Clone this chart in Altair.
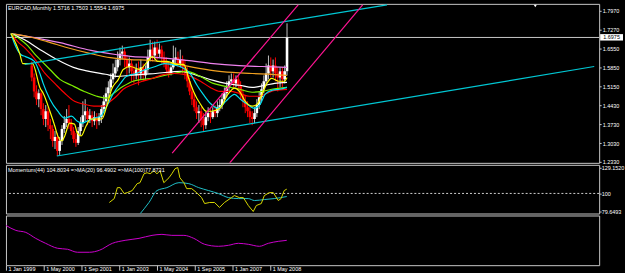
import json
import altair as alt
import pandas as pd

# ---------------- data ----------------
symbol = "EURCAD,Monthly"
candle_months = list(range(9, 120))  # bar index (months since Jan 1999)
opens = [1.593, 1.548, 1.496, 1.467, 1.489, 1.430, 1.393, 1.422, 1.370, 1.356,
         1.311, 1.326, 1.274, 1.311, 1.356, 1.378, 1.393, 1.378, 1.348, 1.318,
         1.304, 1.348, 1.378, 1.407, 1.422, 1.393, 1.407, 1.385, 1.400, 1.385,
         1.400, 1.430, 1.459, 1.489, 1.511, 1.541, 1.563, 1.586, 1.615, 1.637,
         1.645, 1.615, 1.586, 1.600, 1.571, 1.556, 1.578, 1.563, 1.586, 1.556,
         1.578, 1.623, 1.652, 1.630, 1.660, 1.637, 1.652, 1.623, 1.600, 1.578,
         1.563, 1.586, 1.615, 1.623, 1.600, 1.615, 1.586, 1.563, 1.534, 1.496,
         1.467, 1.437, 1.415, 1.422, 1.393, 1.370, 1.400, 1.415, 1.400, 1.422,
         1.415, 1.437, 1.445, 1.467, 1.489, 1.511, 1.534, 1.541, 1.526, 1.541,
         1.519, 1.482, 1.459, 1.437, 1.422, 1.400, 1.393, 1.415, 1.445, 1.474,
         1.504, 1.534, 1.563, 1.593, 1.571, 1.593, 1.563, 1.548, 1.571, 1.541,
         1.5716]
highs = [1.608, 1.563, 1.519, 1.504, 1.496, 1.452, 1.445, 1.437, 1.393, 1.370,
         1.348, 1.341, 1.326, 1.370, 1.404, 1.430, 1.445, 1.393, 1.363, 1.341,
         1.363, 1.400, 1.459, 1.467, 1.437, 1.430, 1.422, 1.422, 1.415, 1.415,
         1.445, 1.482, 1.511, 1.534, 1.563, 1.600, 1.615, 1.645, 1.660, 1.667,
         1.660, 1.630, 1.623, 1.615, 1.593, 1.600, 1.608, 1.615, 1.600, 1.593,
         1.652, 1.689, 1.682, 1.682, 1.689, 1.675, 1.667, 1.645, 1.623, 1.608,
         1.600, 1.667, 1.660, 1.645, 1.652, 1.630, 1.615, 1.586, 1.548, 1.511,
         1.489, 1.459, 1.445, 1.437, 1.415, 1.422, 1.437, 1.430, 1.437, 1.445,
         1.459, 1.467, 1.489, 1.511, 1.534, 1.556, 1.563, 1.563, 1.556, 1.556,
         1.534, 1.504, 1.482, 1.459, 1.437, 1.422, 1.437, 1.467, 1.496, 1.526,
         1.556, 1.600, 1.630, 1.623, 1.615, 1.623, 1.586, 1.586, 1.586, 1.593,
         1.7503]
lows = [1.534, 1.474, 1.445, 1.437, 1.407, 1.370, 1.363, 1.348, 1.318, 1.289,
        1.281, 1.255, 1.259, 1.296, 1.341, 1.363, 1.356, 1.333, 1.304, 1.289,
        1.296, 1.333, 1.363, 1.385, 1.370, 1.378, 1.363, 1.370, 1.356, 1.370,
        1.378, 1.415, 1.445, 1.474, 1.496, 1.526, 1.548, 1.571, 1.593, 1.615,
        1.586, 1.556, 1.563, 1.534, 1.526, 1.541, 1.519, 1.541, 1.534, 1.541,
        1.563, 1.608, 1.608, 1.615, 1.615, 1.623, 1.600, 1.586, 1.563, 1.548,
        1.556, 1.578, 1.593, 1.586, 1.586, 1.563, 1.541, 1.511, 1.482, 1.445,
        1.422, 1.393, 1.378, 1.363, 1.348, 1.356, 1.385, 1.378, 1.393, 1.400,
        1.400, 1.422, 1.430, 1.452, 1.474, 1.496, 1.519, 1.504, 1.511, 1.496,
        1.467, 1.437, 1.415, 1.400, 1.378, 1.370, 1.378, 1.400, 1.430, 1.459,
        1.489, 1.519, 1.541, 1.548, 1.548, 1.534, 1.496, 1.511, 1.511, 1.526,
        1.5554]
closes = [1.548, 1.496, 1.467, 1.489, 1.430, 1.393, 1.422, 1.370, 1.356, 1.311,
          1.326, 1.274, 1.311, 1.356, 1.378, 1.393, 1.378, 1.348, 1.318, 1.304,
          1.348, 1.378, 1.407, 1.422, 1.393, 1.407, 1.385, 1.400, 1.385, 1.400,
          1.430, 1.459, 1.489, 1.511, 1.541, 1.563, 1.586, 1.615, 1.637, 1.645,
          1.615, 1.586, 1.600, 1.571, 1.556, 1.578, 1.563, 1.586, 1.556, 1.578,
          1.623, 1.652, 1.630, 1.660, 1.637, 1.652, 1.623, 1.600, 1.578, 1.563,
          1.586, 1.615, 1.623, 1.600, 1.615, 1.586, 1.563, 1.534, 1.496, 1.467,
          1.437, 1.415, 1.422, 1.393, 1.370, 1.400, 1.415, 1.400, 1.422, 1.415,
          1.437, 1.445, 1.467, 1.489, 1.511, 1.534, 1.541, 1.526, 1.541, 1.519,
          1.482, 1.459, 1.437, 1.422, 1.400, 1.393, 1.415, 1.445, 1.474, 1.504,
          1.534, 1.563, 1.593, 1.571, 1.593, 1.563, 1.548, 1.571, 1.541, 1.5716,
          1.6975]

# moving averages, sampled (month, price)
yellow_m = [0, 3.8, 5.1, 9.3, 12.6, 13.9, 16.8, 18.9, 20.2, 21.9, 23.2, 25.3, 27.4, 28.6, 30.3, 32.4,
            34.5, 39.2, 41.3, 43.4, 46.3, 48.4, 51.4, 55.6, 58.1, 61.1, 63.2, 67.4, 71.6, 74.5, 76.6,
            78.7, 81.7, 84.2, 86.3, 90.1, 93.5, 96.4, 98.5, 101, 104, 106.1, 108.2, 110.3, 112.4,
            115.4, 117.9, 119]
yellow_p = [1.712, 1.637, 1.600, 1.600, 1.508, 1.489, 1.422, 1.367, 1.330, 1.311, 1.330, 1.378, 1.374,
            1.341, 1.330, 1.367, 1.393, 1.393, 1.441, 1.504, 1.541, 1.578, 1.589, 1.578, 1.600, 1.626,
            1.608, 1.608, 1.597, 1.597, 1.545, 1.496, 1.448, 1.422, 1.422, 1.433, 1.485, 1.508, 1.496,
            1.459, 1.441, 1.448, 1.485, 1.526, 1.545, 1.534, 1.534, 1.548]
cyan_m = [0, 1.7, 4.2, 6.3, 10.1, 12.6, 13.9, 16.8, 20.2, 23.2, 26.1, 28.6, 30.7, 32.8, 35.8, 38.7,
          41.3, 44.2, 47.2, 49.7, 53.9, 58.1, 62.3, 66.1, 69.1, 74.5, 77.5, 80, 82.9, 85.9, 89.3,
          92.6, 96.4, 98.9, 101.9, 104.8, 107.4, 109.5, 112.4, 115.8, 119]
cyan_p = [1.712, 1.671, 1.634, 1.626, 1.608, 1.560, 1.526, 1.467, 1.422, 1.396, 1.404, 1.385, 1.378,
          1.385, 1.396, 1.404, 1.441, 1.489, 1.526, 1.552, 1.563, 1.578, 1.589, 1.600, 1.597, 1.582,
          1.560, 1.522, 1.485, 1.452, 1.433, 1.459, 1.485, 1.467, 1.448, 1.433, 1.448, 1.485, 1.500,
          1.504, 1.511]
red_m = [0, 2.9, 6.3, 10.5, 14.7, 18.9, 23.2, 27.4, 31.6, 35.8, 40, 42.9, 45.5, 48.4, 52.6, 56.8,
         61.1, 66.1, 70.3, 74.5, 77.5, 81.7, 85.9, 90.1, 94.3, 98.5, 102.7, 106.9, 110.3, 113.7, 119]
red_p = [1.712, 1.682, 1.656, 1.615, 1.563, 1.526, 1.489, 1.459, 1.448, 1.441, 1.441, 1.459, 1.478,
         1.504, 1.522, 1.534, 1.545, 1.560, 1.563, 1.560, 1.552, 1.534, 1.511, 1.496, 1.496, 1.489,
         1.478, 1.478, 1.489, 1.500, 1.504]
green_m = [0, 4.2, 7.2, 10.1, 12.6, 16.8, 21.1, 26.1, 31.6, 37, 41.3, 44.2, 48.4, 52.6, 56.8, 61.1,
           66.1, 70.3, 75.8, 81.7, 87.2, 92.6, 98.5, 104, 108.2, 112.4, 119]
green_p = [1.712, 1.689, 1.667, 1.637, 1.615, 1.578, 1.541, 1.519, 1.496, 1.478, 1.471, 1.489, 1.515,
           1.534, 1.541, 1.545, 1.556, 1.563, 1.571, 1.552, 1.526, 1.515, 1.504, 1.493, 1.496, 1.504,
           1.511]
white_m = [0, 5.9, 12.6, 19.8, 26.9, 33.7, 40.8, 45.5, 51.4, 56.8, 62.3, 73.3, 77.5, 81.7, 87.2,
           92.6, 98.5, 104, 109.5, 113.7, 119]
white_p = [1.712, 1.689, 1.652, 1.615, 1.586, 1.571, 1.560, 1.552, 1.556, 1.560, 1.563, 1.571, 1.563,
           1.552, 1.537, 1.526, 1.519, 1.511, 1.519, 1.526, 1.530]
orange_m = [0, 7.2, 15.6, 24, 34.5, 42.9, 51.4, 59.8, 70.3, 78.7, 87.2, 95.6, 104, 112.4, 119]
orange_p = [1.712, 1.701, 1.682, 1.660, 1.637, 1.622, 1.615, 1.612, 1.600, 1.586, 1.574, 1.567,
            1.563, 1.560, 1.556]
violet_m = [0, 10.1, 21.1, 34.5, 45.1, 52.6, 62.3, 75.8, 87.2, 96.8, 108.2, 119]
violet_p = [1.712, 1.697, 1.678, 1.649, 1.634, 1.626, 1.623, 1.612, 1.600, 1.593, 1.589, 1.586]

# trend lines (month, price) end points
channel_names = ["channel_top", "channel_bottom"]
channel_m = [[5.9, 162.1], [19.8, 251.4]]
channel_p = [[1.597, 1.8193], [1.255, 1.589]]
pink_names = ["pink_1", "pink_2"]
pink_m = [[69.5, 123.8], [94.3, 151.6]]
pink_p = [[1.266, 1.819], [1.229, 1.819]]

price_ticks = [1.797, 1.727, 1.655, 1.585, 1.515, 1.443, 1.373, 1.303, 1.233]

# momentum panel
mom_m = [43.8, 45.9, 47.2, 48.4, 50.1, 51.4, 53.5, 55.6, 56.8, 58.5, 59.8, 61.1, 62.7, 64, 65.3, 66.9,
         69.1, 70.3, 71.6, 72.8, 73.7, 75.4, 76.6, 78.7, 80.8, 82.9, 84.2, 86.3, 88.4, 90.5, 92.6,
         95.6, 96.8, 98.9, 100.6, 102.7, 104.8, 106.1, 108.2, 109.5, 111.6, 113.3, 115.4, 116.6,
         117.9, 119]
mom_v = [89.8, 94.2, 106.5, 106.5, 99.8, 100.9, 103.2, 111.0, 112.1, 122.1, 123.3, 122.1, 125.5,
         122.1, 125.5, 112.1, 117.7, 122.1, 127.7, 129.152, 117.7, 112.1, 105.4, 105.4, 100.9, 95.3,
         88.6, 89.8, 89.8, 84.2, 89.8, 95.3, 97.6, 95.3, 95.3, 86.4, 79.6493, 86.4, 88.6, 97.6,
         100.9, 100.9, 92.0, 94.2, 103.2, 104.8034]
mom_ma_m = [56.5, 60.6, 64, 68.2, 73.3, 77.5, 81.7, 85.9, 90.1, 94.3, 98.5, 102.7, 105.3, 109.5,
            113.7, 119]
mom_ma_v = [76.0, 89.8, 103.2, 106.5, 112.1, 111.0, 106.5, 103.2, 99.8, 95.3, 94.2, 94.2, 92.0,
            93.1, 94.2, 96.4902]
mom_ticks = [129.152, 100, 79.6493]
mom_label = "Momentum(44) 104.8034  =>MA(20) 96.4902  =>MA(100)77.8731"

# bottom panel
bot_m = [0, 4.2, 8.4, 12.6, 16.8, 21.9, 26.1, 30.3, 35.4, 39.6, 45.1, 50.5, 56.4, 61.9, 66.1, 70.3,
         75.4, 79.6, 84.2, 90.1, 94.3, 98.5, 102.7, 107.4, 111.2, 115.4, 119]
bot_v = [80, 70, 66, 54, 44, 34, 32, 26, 26, 30, 44, 50, 54, 60, 62, 60, 60, 54, 42, 38, 40, 44, 42,
         38, 44, 48, 50]

date_ticks = [0, 16, 32, 48, 64, 80, 96, 112]
date_labels = ["1 Jan 1999", "1 May 2000", "1 Sep 2001", "1 Jan 2003", "1 May 2004",
               "1 Sep 2005", "1 Jan 2007", "1 May 2008"]

# ---------------- chart ----------------
FONT = "Liberation Sans"
FS = 5.5
W = 597
GRID = "#C8C8C8"

xs = alt.Scale(domain=[0, 251.4], nice=False, zero=False)
ys_main = alt.Scale(domain=[1.2294, 1.8230], nice=False, zero=False)
ys_mom = alt.Scale(domain=[77.4, 132.2], nice=False, zero=False)
ys_bot = alt.Scale(domain=[0, 100], nice=False, zero=False)

main_axis = alt.Axis(orient="right", values=price_ticks, format=".4f", title=None,
                     labelColor="white", labelFont=FONT, labelFontSize=FS, tickColor=GRID,
                     tickSize=2, labelPadding=1, domain=False, grid=False, labelOverlap=False,
                     labelFlush=False)


def X(field="m"):
    return alt.X(f"{field}:Q", scale=xs, axis=None)


def YM(field):
    return alt.Y(f"{field}:Q", scale=ys_main, axis=main_axis)


candles = pd.DataFrame({"m": candle_months, "open": opens, "high": highs,
                        "low": lows, "close": closes})
up = "datum.close >= datum.open"

wicks = alt.Chart(candles).mark_rule(strokeWidth=1).encode(
    x=X(), y=YM("low"), y2="high:Q",
    color=alt.condition(up, alt.value("#C0C0C0"), alt.value("#FF0000")))
bodies = alt.Chart(candles).mark_bar(size=2.6).encode(
    x=X(), y=YM("open"), y2="close:Q",
    color=alt.condition(up, alt.value("#FFFFFF"), alt.value("#FF0000")))

ma_names = ["violet", "orange", "white", "green", "red", "cyan", "yellow"]
ma_colors = ["#EE82EE", "#F0A020", "#FFFFFF", "#7FEE00", "#FF0000", "#00E0F0", "#FFFF00"]
ma_series = {"violet": (violet_m, violet_p), "orange": (orange_m, orange_p),
             "white": (white_m, white_p), "green": (green_m, green_p),
             "red": (red_m, red_p), "cyan": (cyan_m, cyan_p), "yellow": (yellow_m, yellow_p)}
rows = []
for name in ma_names:
    ms, ps = ma_series[name]
    assert len(ms) == len(ps), name
    for a, b in zip(ms, ps):
        rows.append({"ma": name, "m": a, "p": b})
ma_df = pd.DataFrame(rows)
ma_lines = alt.Chart(ma_df).mark_line(strokeWidth=1.2, interpolate="monotone").encode(
    x=X(), y=YM("p"),
    color=alt.Color("ma:N", scale=alt.Scale(domain=ma_names, range=ma_colors), legend=None),
    detail="ma:N")


def segs(names, mss, pss):
    out = []
    for name, ms, ps in zip(names, mss, pss):
        for a, b in zip(ms, ps):
            out.append({"t": name, "m": a, "p": b})
    return pd.DataFrame(out)


channel = alt.Chart(segs(channel_names, channel_m, channel_p)).mark_line(
    strokeWidth=1.2, clip=True, color="#00C8D4").encode(x=X(), y=YM("p"), detail="t:N")
pinks = alt.Chart(segs(pink_names, pink_m, pink_p)).mark_line(
    strokeWidth=1.2, clip=True, color="#FF1493").encode(x=X(), y=YM("p"), detail="t:N")

last = pd.DataFrame({"p": [closes[-1]], "lbl": [f"{closes[-1]:.4f}"]})
price_line = alt.Chart(last).mark_rule(color=GRID, strokeWidth=1).encode(y=YM("p"))
box = alt.Chart(last).transform_calculate(
    top="datum.p + 0.0125", bot="datum.p - 0.0115"
).mark_rect(color="white").encode(
    x=alt.value(W + 1), x2=alt.value(W + 24), y=YM("top"), y2="bot:Q")
box_text = alt.Chart(last).mark_text(font=FONT, fontSize=FS, color="black", align="center",
                                     baseline="middle").encode(
    x=alt.value(W + 12.5), y=YM("p"), text="lbl:N")

header = f"{symbol}  {opens[-1]:.4f} {highs[-1]:.4f} {lows[-1]:.4f} {closes[-1]:.4f}"
head = alt.Chart(pd.DataFrame({"t": [header]})).mark_text(
    font=FONT, fontSize=FS, color="white", align="left", baseline="middle").encode(
    x=alt.value(2), y=alt.value(4.5), text="t:N")

shift = alt.Chart(pd.DataFrame({"m": [226], "p": [1.815]})).mark_point(
    shape="triangle-down", filled=True, color="white", size=10, opacity=1).encode(
    x=X(), y=YM("p"))

main = alt.layer(price_line, wicks, bodies, ma_lines, channel, pinks, shift, box, box_text,
                 head).properties(width=W, height=160)

# momentum panel
mom_axis = alt.Axis(orient="right", values=mom_ticks, title=None,
                    labelExpr="datum.value == 100 ? '100' : format(datum.value, '.4f')",
                    labelColor="white", labelFont=FONT, labelFontSize=FS, tickColor=GRID,
                    tickSize=2, labelPadding=0, domain=False, grid=False, labelOverlap=False,
                    labelFlush=False)


def YO(field):
    return alt.Y(f"{field}:Q", scale=ys_mom, axis=mom_axis)


ref = alt.Chart(pd.DataFrame({"v": [100]})).mark_rule(
    color="#D0D0D0", strokeWidth=1, strokeDash=[2, 2]).encode(y=YO("v"))
mom_df = pd.DataFrame({"m": mom_m, "v": mom_v})
mom_line = alt.Chart(mom_df).mark_line(color="#D8D800", strokeWidth=1).encode(x=X(), y=YO("v"))
mom_ma_df = pd.DataFrame({"m": mom_ma_m, "v": mom_ma_v})
mom_ma_line = alt.Chart(mom_ma_df).mark_line(color="#20C0C8", strokeWidth=1, clip=True,
                                             interpolate="monotone").encode(x=X(), y=YO("v"))
mom_text = alt.Chart(pd.DataFrame({"t": [mom_label]})).mark_text(
    font=FONT, fontSize=FS, color="white", align="left", baseline="middle").encode(
    x=alt.value(2), y=alt.value(5.5), text="t:N")
mom = alt.layer(ref, mom_ma_line, mom_line, mom_text).properties(width=W, height=49)

# bottom panel
label_expr = json.dumps(date_labels) + "[round(datum.value / 16)]"
x_axis = alt.Axis(orient="bottom", values=date_ticks, labelExpr=label_expr, title=None,
                  labelAlign="left", labelBaseline="top", labelPadding=-4, labelOffset=2,
                  tickSize=5, tickColor=GRID, labelColor="white", labelFont=FONT,
                  labelFontSize=FS, domain=False, grid=False, labelOverlap=False,
                  labelFlush=False)
bot_df = pd.DataFrame({"m": bot_m, "v": bot_v})
bot = alt.Chart(bot_df).mark_line(color="#CC00CC", strokeWidth=1, interpolate="monotone").encode(
    x=alt.X("m:Q", scale=xs, axis=x_axis),
    y=alt.Y("v:Q", scale=ys_bot, axis=None)).properties(width=W, height=50)

chart = alt.vconcat(main, mom, bot, spacing=2, bounds="flush").properties(
    background="black", padding={"left": 3, "top": 2, "right": 0, "bottom": 0}
).configure_view(stroke=GRID, strokeWidth=1, fill="black")

chart.save("out.html", embed_options={"renderer": "svg", "actions": False})
